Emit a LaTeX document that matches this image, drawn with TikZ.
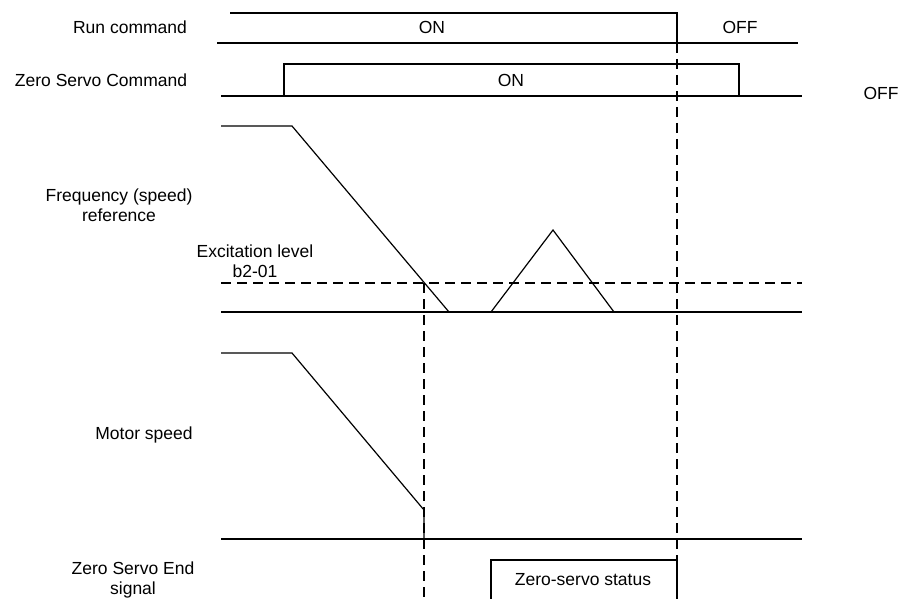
\documentclass[tikz,border=0pt]{standalone}
\usepackage{fontspec}
\setmainfont{Liberation Sans}
\begin{document}
\begin{tikzpicture}[x=1pt, y=-1pt, font=\fontsize{17.5}{20}\selectfont,
        signal/.style={line width=1.2pt},
        level/.style={line width=2.4pt},
        limit/.style={line width=1.2pt, dash pattern=on 10pt off 6pt},
        caption/.style={align=center, inner sep=0pt}]
    \useasboundingbox (0,0) rectangle (900,599);
    % noms des signaux, à gauche
    \node[caption] (run) at (130, 27) {Run command};
    \node[caption] (zsc) at (101, 80) {Zero Servo Command};
    \node[caption] (freq) at (119, 205) {Frequency (speed)\\reference};
    \node[caption] (exc) at (255, 261) {Excitation level\\b2-01};
    \node[caption] (motor) at (144, 435) {Motor speed};
    \node[caption] (zse) at (133, 580) {Zero Servo End\\signal};
    % Run command
    \draw[signal] (230, 13) -- (677, 13) -- (677, 43);
    \draw[signal] (217, 43) -- (677, 43);
    \draw[level] (677, 43) -- (798, 43);
    \node[caption] (runon) at (432, 27) {ON};
    \node[caption] (runoff) at (740, 27) {OFF};
    % Zero Servo Command
    \draw[level] (221, 96) -- (284, 96);
    \draw[signal] (284, 96) -- (284, 64) -- (739, 64) -- (739, 96);
    \draw[signal] (284, 96) -- (739, 96);
    \draw[level] (739, 96) -- (802, 96);
    \node[caption] (zscon) at (511, 80) {ON};
    \node[caption] (zscoff) at (881, 93) {OFF};
    % Frequency (speed) reference
    \draw[signal] (221, 126) -- (292, 126) -- (449, 312);
    \draw[signal] (221, 312) -- (802, 312);
    \draw[level] (449, 312) -- (491, 312);
    \draw[signal] (491, 312) -- (553, 230) -- (614, 312);
    \draw[level] (614, 312) -- (802, 312);
    \draw[limit] (221, 283) -- (802, 283);
    % Motor speed
    \draw[signal] (221, 353) -- (292, 353) -- (424, 510) -- (424, 539);
    \draw[signal] (221, 539) -- (424, 539);
    \draw[level] (424, 539) -- (802, 539);
    % lignes de repère
    \draw[limit] (677, 43) -- (677, 560);
    \draw[limit] (424, 283) -- (424, 599);
    % Zero Servo End signal
    \draw[signal] (491, 599) -- (491, 560) -- (677, 560) -- (677, 599);
    \node[caption] (status) at (583, 580) {Zero-servo status};
\end{tikzpicture}
\end{document}
